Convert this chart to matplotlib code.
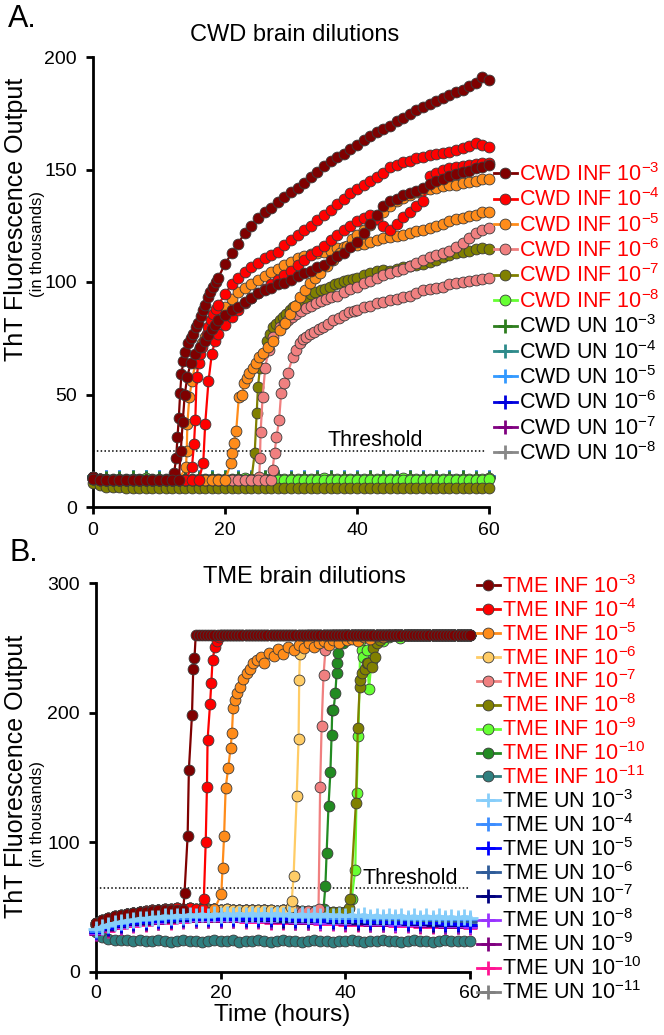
import matplotlib
matplotlib.use('Agg')
import matplotlib.pyplot as plt
from matplotlib.lines import Line2D

plt.rcParams['font.family'] = ['Liberation Sans', 'DejaVu Sans']
plt.rcParams['mathtext.fontset'] = 'custom'
plt.rcParams['mathtext.rm'] = 'Liberation Sans'
plt.rcParams['mathtext.it'] = 'Liberation Sans:italic'
plt.rcParams['mathtext.bf'] = 'Liberation Sans:bold'

# ------------------------------------------------------------------ data
hours = list(range(0, 61))
hours2 = list(range(0, 61, 2))

# ---- Panel A : CWD brain dilutions (ThT, thousands)
cwd_base_1 = [13.2, 12.4, 12.1, 11.9, 12.0, 12.2, 11.8, 12.0, 12.1, 11.9,
              12.0, 12.2, 12.1, 12.0, 11.9, 12.1, 12.0, 12.2, 11.9, 12.0,
              12.1, 11.9, 12.0, 12.2, 12.1, 11.9, 12.0, 12.2, 12.1]
cwd_base_2 = [12.6, 12.1, 11.8, 12.0, 12.1, 11.9, 12.2, 12.0, 11.8, 12.1,
              11.9, 12.0, 12.2, 11.9, 12.1, 12.0, 11.8, 12.1, 12.0, 12.2,
              11.9, 12.0, 12.1, 11.9, 12.2, 12.0, 11.9, 12.1, 12.0]

cwd_inf3a_rise_t = [12.3, 12.6, 12.8, 13.0, 13.2, 13.4, 13.7, 14.0, 14.4, 14.8,
                    15.2, 15.6, 15.9, 16.3, 16.7, 17.0, 17.4, 17.8, 18.2, 18.6]
cwd_inf3a_rise_v = [15, 22, 31, 39.5, 50.5, 59, 65, 69, 73, 75,
                    77, 80, 82, 85, 87.6, 90, 93.5, 95.5, 98, 100]
cwd_inf3a_post = [102, 108, 112.7, 117, 122, 125, 128.5, 131, 133, 135.7,
                  138, 140, 142, 144, 146.8, 149, 151.5, 154, 155.5, 157,
                  159, 161, 163, 165, 166.5, 168, 169.5, 171.5, 173, 174.5,
                  176.5, 178, 179, 180.5, 182, 183, 184.5, 185.5, 187, 188.5,
                  191, 190]

cwd_inf3b_rise_t = [13.3, 13.6, 13.9, 14.3, 14.8, 15.5, 16.2, 17.0, 17.5, 18.0, 18.5]
cwd_inf3b_rise_v = [25, 38, 50, 58, 64, 68, 71, 74, 76.5, 79, 81]
cwd_inf3b_post = [83, 85.5, 87.5, 89, 91, 93, 95, 96.5, 97.5, 99,
                  99.6, 101, 102.5, 104, 105, 106.5, 107.5, 110, 111.5, 113,
                  115.7, 118, 122, 126, 130, 134, 136, 137, 138.5, 139.5,
                  140.5, 142, 143.5, 145, 146, 147, 148, 149, 149.5, 150.5,
                  151, 152]

cwd_inf4a_rise_t = [15.0, 15.3, 15.5, 15.7, 16.0, 16.2, 16.5, 16.8, 17.2, 17.5, 17.9, 18.2, 18.6]
cwd_inf4a_rise_v = [18, 28, 38.7, 58, 64, 68, 71, 74, 77, 80, 83, 86, 88]
cwd_inf4a_post = [90, 94.5, 99, 102, 104.5, 106.5, 108.5, 110.5, 112, 113.5,
                  116.5, 118.5, 121, 123, 125, 127.5, 130, 132, 134.5, 137,
                  139.5, 141.5, 143, 145, 146.8, 148.5, 151, 152, 153.5, 154,
                  155, 155.7, 156.5, 157, 157.5, 158, 158.7, 159.5, 160.5, 162,
                  161, 160]

cwd_inf4b_rise_t = [16.7, 17.0, 17.5, 18.0, 18.5]
cwd_inf4b_rise_v = [19.4, 37, 56, 68, 74]
cwd_inf4b_post = [77, 81, 84.5, 87.5, 90.5, 93, 95, 97, 99, 101,
                  103, 105, 107.5, 110, 112, 114, 116, 118.5, 121, 123,
                  125, 127, 128.5, 130, 128, 125, 123, 126, 129, 131,
                  134, 136, 147, 148.5, 150, 150.5, 151, 151.5, 152, 152.5,
                  153, 153]

cwd_inf5a_rise_t = [14.1, 14.2, 14.3, 14.6, 15.0, 15.5, 16.0, 16.5, 17.0, 17.6, 18.2, 18.8]
cwd_inf5a_rise_v = [18, 25, 37, 49, 56, 64, 70, 73, 75.7, 79, 81.6, 84.5]
cwd_inf5a_post = [85.5, 89, 92.5, 95.5, 97.5, 99, 101, 102.5, 104.5, 106,
                  107.5, 109, 110.5, 111.5, 112.5, 113, 113.5, 114, 115, 115.5,
                  116, 116.5, 117, 118, 118.7, 119.5, 120, 120.5, 121, 122,
                  122.5, 123, 124, 125, 126, 127, 128, 128.5, 129.5, 130,
                  131, 131]

cwd_inf5b_rise_t = [20.9, 21.1, 21.3, 21.7, 22.1, 22.6, 22.9, 23.3, 23.7, 24.2,
                    24.7, 25.2, 25.8, 26.5, 27.3, 28.3, 29.1, 29.9, 30.6, 31.4,
                    32.1, 32.9, 33.6, 34.4, 35.4, 36.4, 37.4, 38.5, 39.3]
cwd_inf5b_rise_v = [19.4, 24, 28.4, 34, 49, 50, 55, 57.5, 59.5, 62,
                    64, 66.5, 68.4, 71, 74, 78.7, 82, 86, 89.5, 93.5,
                    96.5, 99.6, 102, 104, 107, 110, 113, 116, 119]
cwd_inf5b_post = [121, 123, 125.5, 128, 131, 134, 136, 137.5, 138.5, 140,
                  141, 141.5, 142, 142.5, 143, 143, 144, 144.5, 145, 146,
                  146]

cwd_inf6a_rise_t = [25.0, 25.2, 25.3, 25.4, 25.7, 26.1, 26.6, 27.3, 28.3, 29.0,
                    29.5, 30.2, 30.8, 31.5, 32.2, 33.0, 33.8, 34.5, 35.3, 36.1,
                    37.0, 38.0, 39.0]
cwd_inf6a_rise_v = [12.3, 13.5, 22, 33.5, 49, 62, 70, 75.7, 80, 81.5,
                    83, 84.5, 86, 87, 88.5, 89.5, 90.5, 91.5, 92.5, 93.5,
                    94, 95.5, 97]
cwd_inf6a_post = [98, 99.6, 100.5, 102, 103, 104, 105, 106, 107, 108.5,
                  110, 111, 112, 113, 114, 115.7, 117.5, 119.5, 121.6, 123,
                  124]

cwd_inf6b_rise_t = [27.2, 27.5, 27.8, 28.2, 28.5, 29.0, 29.5, 30.3, 30.8, 31.3,
                    31.8, 32.3, 32.9, 33.5, 34.2, 34.9, 35.6, 36.4, 37.2, 38.0,
                    38.8, 39.5]
cwd_inf6b_rise_v = [16.4, 24, 31, 38.7, 50.5, 55, 59.5, 66.8, 70, 73,
                    74.5, 75.7, 77, 78, 79, 80, 81.5, 83, 84, 85.5,
                    86.5, 87]
cwd_inf6b_post = [87.6, 89, 89.5, 90.5, 91, 92, 92.5, 93.5, 94, 95,
                  96.4, 97, 97.5, 98, 99, 99.6, 100, 100.5, 101, 101.5,
                  102]

cwd_inf7a_rise_t = [24.5, 24.8, 25.0, 25.3, 25.8, 26.3, 26.8, 27.3, 27.8, 28.3,
                    28.8, 29.3, 29.8, 30.3, 30.9, 31.5, 32.2, 33.0, 33.7, 34.5,
                    35.2, 35.9, 36.6, 37.3, 38.0, 38.7, 39.4]
cwd_inf7a_rise_v = [24, 41.6, 53.5, 62, 68, 74, 77, 80, 81.5, 83,
                    84.5, 86, 87.5, 89, 90, 91.5, 93, 94.5, 95.5, 96.5,
                    97, 98, 99, 99.5, 100.5, 101, 101.5]
cwd_inf7a_post = [102, 103, 104, 105, 105.5, 105, 106, 106.5, 107, 107.5,
                  108, 109, 110, 111, 112, 113, 113.5, 114, 114.5, 115,
                  114.7]

cwd_inf7b = [10.6, 9.6, 9.0, 8.8, 8.7, 8.6, 8.5, 8.6, 8.5, 8.4,
             8.5, 8.6, 8.5, 8.4, 8.5, 8.5, 8.6, 8.4, 8.5, 8.5,
             8.6, 8.5, 8.4, 8.5, 8.6, 8.5, 8.5, 8.4, 8.5, 8.6,
             8.5, 8.4, 8.5, 8.5, 8.6, 8.5, 8.4, 8.5, 8.6, 8.5,
             8.5, 8.4, 8.5, 8.6, 8.5, 8.5, 8.4, 8.5, 8.6, 8.5,
             8.4, 8.5, 8.5, 8.6, 8.5, 8.4, 8.5, 8.6, 8.5, 8.5,
             8.6]
cwd_inf8a = [13.0, 12.6, 12.4, 12.5, 12.3, 12.6, 12.4, 12.5, 12.7, 12.4,
             12.5, 12.6, 12.3, 12.5, 12.4, 12.6, 12.5, 12.3, 12.6, 12.5,
             12.4, 12.6, 12.5, 12.7, 12.4, 12.5, 12.6, 12.4, 12.5, 12.3,
             12.6, 12.5, 12.4, 12.6, 12.5, 12.7, 12.4, 12.5, 12.6, 12.4,
             12.5, 12.3, 12.6, 12.5, 12.4, 12.6, 12.5, 12.7, 12.4, 12.5,
             12.6, 12.4, 12.5, 12.6, 12.3, 12.5, 12.6, 12.4, 12.5, 12.6,
             12.8]
cwd_inf8b = [12.4, 12.1, 11.9, 12.0, 12.2, 11.9, 12.1, 12.0, 11.8, 12.1,
             12.0, 11.9, 12.2, 12.0, 12.1, 11.9, 12.0, 12.2, 11.9, 12.1,
             12.0, 11.8, 12.1, 12.0, 12.2, 11.9, 12.0, 12.1, 11.9, 12.2,
             12.0, 12.1, 11.9, 12.0, 12.2, 12.0, 11.9, 12.1, 12.0, 11.8,
             12.1, 12.0, 12.2, 11.9, 12.0, 12.1, 11.9, 12.2, 12.0, 12.1,
             11.9, 12.0, 12.2, 12.0, 11.9, 12.1, 12.0, 12.2, 11.9, 12.0,
             12.3]

cwd_un3 = [13.8, 13.5, 13.4, 13.6, 13.5, 13.4, 13.6, 13.5, 13.3, 13.5, 13.6, 13.4, 13.5, 13.6, 13.4, 13.5,
           13.3, 13.5, 13.6, 13.4, 13.5, 13.6, 13.5, 13.4, 13.6, 13.5, 13.3, 13.5, 13.6, 13.4, 13.5]
cwd_un4 = [13.6, 13.4, 13.5, 13.3, 13.6, 13.5, 13.4, 13.3, 13.5, 13.6, 13.4, 13.5, 13.3, 13.4, 13.6, 13.5,
           13.4, 13.6, 13.3, 13.5, 13.4, 13.5, 13.6, 13.3, 13.5, 13.4, 13.6, 13.4, 13.5, 13.3, 13.4]
cwd_un5 = [14.0, 13.7, 13.6, 13.8, 13.6, 13.7, 13.5, 13.8, 13.6, 13.7, 13.8, 13.6, 13.7, 13.5, 13.8, 13.7,
           13.6, 13.8, 13.7, 13.6, 13.8, 13.7, 13.5, 13.7, 13.8, 13.6, 13.7, 13.8, 13.6, 13.7, 13.6]
cwd_un6 = [13.9, 13.8, 13.7, 13.9, 13.8, 13.6, 13.9, 13.7, 13.8, 13.9, 13.7, 13.8, 13.6, 13.9, 13.8, 13.7,
           13.9, 13.8, 13.6, 13.8, 13.9, 13.7, 13.8, 13.9, 13.7, 13.8, 13.6, 13.9, 13.8, 13.7, 13.8]
cwd_un7 = [13.4, 13.2, 13.3, 13.1, 13.3, 13.2, 13.4, 13.3, 13.1, 13.2, 13.3, 13.4, 13.2, 13.3, 13.1, 13.3,
           13.2, 13.4, 13.3, 13.2, 13.1, 13.3, 13.2, 13.4, 13.3, 13.2, 13.3, 13.1, 13.2, 13.3, 13.2]
cwd_un8 = [13.3, 13.1, 13.2, 13.0, 13.2, 13.1, 13.3, 13.2, 13.0, 13.1, 13.2, 13.3, 13.1, 13.2, 13.0, 13.2,
           13.1, 13.3, 13.2, 13.1, 13.0, 13.2, 13.1, 13.3, 13.2, 13.1, 13.2, 13.0, 13.1, 13.2, 13.1]

cwd_inf_labels = ['-3', '-4', '-5', '-6', '-7', '-8']
cwd_inf_colors = ['#7f0000', '#ff0000', '#ff8c1a', '#f08080', '#808000', '#66ff33']
cwd_un_colors = ['#2e7d1e', '#2e8b8b', '#3399ff', '#0000dd', '#800080', '#888888']
cwd_threshold = 25

# ---- Panel B : TME brain dilutions
tme_base_1 = [37.5, 40.0, 41.5, 43.0, 44.0, 45.0, 45.5, 46.0, 46.5, 47.0,
              47.5, 47.5, 48.0, 48.0, 48.0, 48.5, 48.0, 48.5, 48.0, 48.5,
              48.0, 48.0, 47.5, 48.0, 47.5, 47.5, 47.0, 47.5, 47.0, 47.0,
              47.5, 47.0, 47.0, 46.5, 47.0, 46.5, 46.5, 46.0, 46.5, 46.0,
              46.5]
tme_base_2 = [36.5, 39.0, 41.0, 42.5, 43.5, 44.5, 45.5, 46.5, 47.0, 47.5,
              48.0, 48.5, 48.5, 49.0, 48.5, 49.0, 48.5, 49.0, 48.5, 48.5,
              48.0, 48.5, 48.0, 48.0, 48.0, 47.5, 48.0, 47.5, 47.5, 47.0,
              47.5, 47.0, 47.5, 47.0, 46.5, 47.0, 46.5, 46.5, 46.0, 46.5,
              46.0]
# instrument ceiling, read every half hour from 17 h to 60 h
tme_ceiling_t = [h / 2 for h in range(34, 121)]
tme_ceiling = [260, 260, 260, 260, 260, 260, 260, 260, 260, 260,
               260, 260, 260, 260, 260, 260, 260, 260, 260, 260,
               260, 260, 260, 260, 260, 260, 260, 260, 260, 260,
               260, 260, 260, 260, 260, 260, 260, 260, 260, 260,
               260, 260, 260, 260, 260, 260, 260, 260, 260, 260,
               260, 260, 260, 260, 260, 260, 260, 260, 260, 260,
               260, 260, 260, 260, 260, 260, 260, 260, 260, 260,
               260, 260, 260, 260, 260, 260, 260, 260, 260, 260,
               260, 260, 260, 260, 260, 260, 260]

tme_inf3_rise_t = [14.2, 14.7, 14.9, 15.4, 15.6, 15.8, 16.0, 16.5]
tme_inf3_rise_v = [61, 105, 156, 198.5, 234, 242, 260, 260]
tme_inf4_rise_t = [17.1, 17.3, 17.6, 17.8, 17.9, 18.3, 18.5, 18.7, 19.1, 19.4, 19.8]
tme_inf4_rise_v = [48.5, 56, 100, 143, 179, 207, 223, 241, 251, 255, 258]
tme_inf5_rise_t = [20.1, 20.3, 20.55, 20.8, 21.2, 21.6, 21.8, 22.0, 22.3, 22.7,
                   23.1, 23.6, 24.2, 24.7, 25.2, 25.8, 26.4, 27.0, 27.7, 28.5,
                   29.2, 30.0, 30.8, 31.7, 32.5, 33.3, 34.1, 34.9, 35.7, 36.5,
                   37.3, 38.1, 39.0, 40.2, 41.0, 42.0, 43.0, 44.0, 45.0, 46.0,
                   47.0, 48.0]
tme_inf5_rise_v = [60, 80, 105, 142, 157, 173, 184, 203.6, 210, 215,
                   220, 226, 230.5, 234, 238, 240.8, 243, 238, 246, 244,
                   249, 245, 251, 248, 252, 250, 254, 251, 253.6, 255,
                   252, 256, 254, 256, 257, 255, 258, 257, 259, 258,
                   260, 260]
tme_inf6_rise_t = [31.3, 31.4, 31.7, 32.2, 32.5, 32.6, 32.7, 33.2]
tme_inf6_rise_v = [50, 55, 74, 136, 180, 225, 245, 258]
tme_inf7_rise_t = [35.7, 35.96, 36.2, 36.5, 36.8, 37.3]
tme_inf7_rise_v = [48.5, 143, 190, 229, 248, 258]
tme_inf8_rise_t = [40.66, 40.8, 41.7, 42.0, 42.3, 42.4, 42.6, 43.2, 43.4, 43.7,
                   44.2, 44.5, 44.8, 45.05, 45.6, 46.1, 47.0]
tme_inf8_rise_v = [49.7, 56, 130.5, 188, 220, 225, 230.5, 234, 238, 238,
                   235.6, 249.8, 243, 253.6, 256, 258.7, 259]
tme_inf9_rise_t = [40.5, 41.0, 41.6, 41.8, 42.1, 42.4, 42.6, 42.9, 43.4, 43.8,
                   44.2, 45.05, 46.0, 47.0, 48.8]
tme_inf9_rise_v = [48, 56, 79, 138, 182, 255, 248, 243, 248, 218,
                   240, 256, 255, 258, 257.5]
tme_inf10_rise_t = [36.5, 36.8, 37.0, 37.3, 37.6, 37.8, 37.9, 38.1, 38.4, 38.6,
                    38.7, 38.9, 39.2, 39.6]
tme_inf10_rise_v = [48.5, 66.4, 92, 128, 154, 183, 202, 202, 215, 230.5,
                    238, 246, 256, 254]
tme_inf11 = [31.0, 27.0, 25.5, 25.0, 24.5, 24.5, 24.0, 24.5, 24.0, 24.0,
             24.5, 24.0, 23.5, 24.0, 24.5, 24.0, 24.0, 23.5, 24.0, 24.5,
             24.0, 24.0, 24.5, 23.5, 24.0, 24.0, 24.5, 24.0, 23.5, 24.0,
             24.5, 24.0, 24.0, 23.5, 24.0, 24.5, 24.0, 24.0, 23.5, 24.0,
             24.0, 24.5, 24.0, 23.5, 24.0, 24.0, 24.5, 24.0, 24.0, 23.5,
             24.0, 24.5, 24.0, 24.0, 23.5, 24.0, 24.5, 24.0, 24.0, 24.0,
             24.0]

# UN 10^-3 read hourly (top, visible band); the rest every 2 h
tme_un3 = [33.0, 35.0, 36.5, 37.5, 38.5, 39.5, 40.0, 41.0, 41.0, 42.0,
           42.0, 43.0, 42.5, 43.5, 43.0, 44.0, 43.5, 44.5, 43.5, 44.5,
           44.0, 45.0, 44.0, 45.0, 44.0, 45.0, 44.0, 45.0, 44.0, 45.0,
           44.0, 44.5, 43.5, 44.5, 43.5, 44.5, 43.5, 44.5, 43.0, 44.0,
           43.0, 44.0, 43.0, 44.0, 42.5, 43.5, 42.5, 43.5, 42.5, 43.5,
           42.0, 43.0, 42.0, 43.0, 42.0, 43.0, 41.5, 42.5, 41.5, 42.5,
           42.0]
tme_un4 = [32.0, 35.5, 37.5, 39.0, 40.0, 41.0, 41.5, 42.0, 42.5, 42.5, 43.0, 43.0, 43.0, 43.0, 43.0, 43.0,
           42.5, 42.5, 42.5, 42.0, 42.0, 42.0, 41.5, 41.5, 41.5, 41.0, 41.0, 41.0, 40.5, 40.5, 40.5]
tme_un5 = [31.0, 34.0, 36.0, 37.5, 38.5, 39.5, 40.0, 40.5, 41.0, 41.0, 41.0, 41.0, 41.0, 40.5, 40.5, 40.5,
           40.0, 40.0, 39.5, 39.5, 39.0, 39.0, 38.5, 38.5, 38.0, 38.0, 37.5, 37.5, 37.0, 37.0, 36.5]
tme_un6 = [31.5, 35.0, 37.0, 38.5, 39.5, 40.5, 41.0, 41.5, 42.0, 42.0, 42.0, 42.0, 42.0, 41.5, 41.5, 41.5,
           41.0, 41.0, 41.0, 40.5, 40.5, 40.0, 40.0, 40.0, 39.5, 39.5, 39.0, 39.0, 39.0, 38.5, 38.5]
tme_un7 = [30.5, 33.5, 35.5, 37.0, 38.0, 39.0, 39.5, 40.0, 40.5, 40.5, 40.5, 40.5, 40.0, 40.0, 40.0, 39.5,
           39.5, 39.0, 39.0, 38.5, 38.5, 38.0, 38.0, 37.5, 37.5, 37.0, 37.0, 36.5, 36.5, 36.0, 36.0]
tme_un8 = [30.0, 33.0, 35.0, 36.5, 37.5, 38.5, 39.0, 39.5, 40.0, 40.0, 40.0, 40.0, 39.5, 39.5, 39.0, 39.0,
           38.5, 38.5, 38.0, 38.0, 37.5, 37.5, 37.0, 37.0, 36.5, 36.5, 36.0, 36.0, 35.5, 35.5, 35.0]
tme_un9 = [29.5, 32.5, 34.5, 36.0, 37.0, 38.0, 38.5, 39.0, 39.5, 39.5, 39.5, 39.5, 39.0, 39.0, 38.5, 38.5,
           38.0, 38.0, 37.5, 37.5, 37.0, 37.0, 36.5, 36.5, 36.0, 36.0, 35.5, 35.5, 35.0, 35.0, 34.5]
tme_un10 = [29.0, 32.0, 34.0, 35.5, 36.5, 37.5, 38.0, 38.5, 39.0, 39.0, 39.0, 39.0, 38.5, 38.5, 38.0, 38.0,
            37.5, 37.5, 37.0, 37.0, 36.5, 36.5, 36.0, 36.0, 35.5, 35.5, 35.0, 35.0, 34.5, 34.5, 34.0]
tme_un11 = [32.0, 35.0, 37.0, 38.5, 39.5, 40.5, 41.0, 41.5, 42.0, 42.0, 42.0, 42.0, 42.0, 42.0, 41.5, 41.5,
            41.5, 41.0, 41.0, 41.0, 40.5, 40.5, 40.5, 40.0, 40.0, 40.0, 39.5, 39.5, 39.5, 39.0, 39.0]

tme_labels = ['-3', '-4', '-5', '-6', '-7', '-8', '-9', '-10', '-11']
tme_inf_colors = ['#7f0000', '#ff0000', '#ff8c1a', '#ffcc66', '#f08080',
                  '#808000', '#66ff33', '#228b22', '#2f7f7f']
tme_un_colors = ['#87cefa', '#3c8dff', '#0000ff', '#2f5c99', '#00007f',
                 '#9933ff', '#800080', '#ff1493', '#808080']
tme_threshold = 65

# ------------------------------------------------------------------ helpers
W, H = 664, 1035
fig = plt.figure(figsize=(W / 100, H / 100), dpi=100)


def fx(px):
    return px / W


def fy(py):
    return 1 - py / H


def build(base, n_base, rise_t, rise_v, post_start, post_v):
    t = hours[:n_base] + rise_t + hours[post_start:]
    v = base[:n_base] + rise_v + post_v
    return t, v


def build_b(base, n_base, rise_t, rise_v, ceil_start):
    idx = (ceil_start - 17) * 2
    return (hours[:n_base] + rise_t + tme_ceiling_t[idx:],
            base[:n_base] + rise_v + tme_ceiling[idx:])


MS = 7.8
EDGE = '#3a3a3a'


def plot_inf(ax, t, v, color, z):
    ax.plot(t, v, '-', color=color, lw=1.6, marker='o', ms=MS, mfc=color,
            mec=EDGE, mew=0.6, clip_on=False, zorder=z)


def plot_un(ax, t, v, color, z, ms=9, lw=1.6):
    ax.plot(t, v, '-', color=color, lw=lw, marker='+', ms=ms, mew=2,
            clip_on=False, zorder=z)


# ------------------------------------------------------------------ axes
axA = fig.add_axes([fx(93), fy(507), (489 - 93) / W, (507 - 57) / H])
axB = fig.add_axes([fx(96), fy(972), (470 - 96) / W, (972 - 583) / H])
for ax in (axA, axB):
    ax.spines['top'].set_visible(False)
    ax.spines['right'].set_visible(False)
    ax.spines['left'].set_linewidth(2)
    ax.spines['bottom'].set_linewidth(2)
    ax.tick_params(width=2, length=5, labelsize=14, direction='out')
    ax.tick_params(axis='y', pad=6.5)
    ax.set_xlim(0, 60)
    ax.set_xticks([0, 20, 40, 60])
    ax.patch.set_alpha(0)
axA.tick_params(axis='x', pad=6)
axB.tick_params(axis='x', pad=4)
axA.set_ylim(0, 200)
axA.set_yticks([0, 50, 100, 150, 200])
axB.set_ylim(0, 300)
axB.set_yticks([0, 100, 200, 300])

# ---- panel A drawing
un_a = [cwd_un3, cwd_un4, cwd_un5, cwd_un6, cwd_un7, cwd_un8]
for i in reversed(range(6)):
    plot_un(axA, hours2, un_a[i], cwd_un_colors[i], 2 + (5 - i) * 0.01)

cwd_series = {
    0: [build(cwd_base_1, 13, cwd_inf3a_rise_t, cwd_inf3a_rise_v, 19, cwd_inf3a_post),
        build(cwd_base_2, 14, cwd_inf3b_rise_t, cwd_inf3b_rise_v, 19, cwd_inf3b_post)],
    1: [build(cwd_base_1, 15, cwd_inf4a_rise_t, cwd_inf4a_rise_v, 19, cwd_inf4a_post),
        build(cwd_base_2, 17, cwd_inf4b_rise_t, cwd_inf4b_rise_v, 19, cwd_inf4b_post)],
    2: [build(cwd_base_1, 14, cwd_inf5a_rise_t, cwd_inf5a_rise_v, 19, cwd_inf5a_post),
        build(cwd_base_2, 21, cwd_inf5b_rise_t, cwd_inf5b_rise_v, 40, cwd_inf5b_post)],
    3: [build(cwd_base_1, 25, cwd_inf6a_rise_t, cwd_inf6a_rise_v, 40, cwd_inf6a_post),
        build(cwd_base_2, 28, cwd_inf6b_rise_t, cwd_inf6b_rise_v, 40, cwd_inf6b_post)],
    4: [build(cwd_base_1, 25, cwd_inf7a_rise_t, cwd_inf7a_rise_v, 40, cwd_inf7a_post),
        (hours, cwd_inf7b)],
    5: [(hours, cwd_inf8a), (hours, cwd_inf8b)],
}
for i in reversed(range(6)):
    for k, (t, v) in enumerate(cwd_series[i]):
        plot_inf(axA, t, v, cwd_inf_colors[i], 3 + (5 - i) * 0.1 + k * 0.01)

axA.plot([0, 59.5], [cwd_threshold, cwd_threshold], ls=(0, (1, 1.5)), color='black', lw=1.1, zorder=1)
axA.text(35.5, 27.3, 'Threshold', fontsize=15.5, va='baseline', ha='left')

# ---- panel B drawing
tme_series = [
    build_b(tme_base_1, 15, tme_inf3_rise_t, tme_inf3_rise_v, 17),
    build_b(tme_base_2, 17, tme_inf4_rise_t, tme_inf4_rise_v, 20),
    build_b(tme_base_1, 20, tme_inf5_rise_t, tme_inf5_rise_v, 49),
    build_b(tme_base_2, 32, tme_inf6_rise_t, tme_inf6_rise_v, 34),
    build_b(tme_base_1, 36, tme_inf7_rise_t, tme_inf7_rise_v, 38),
    build_b(tme_base_2, 41, tme_inf8_rise_t, tme_inf8_rise_v, 48),
    build_b(tme_base_1, 41, tme_inf9_rise_t, tme_inf9_rise_v, 50),
    build_b(tme_base_2, 37, tme_inf10_rise_t, tme_inf10_rise_v, 40),
    (hours, tme_inf11),
]
for i in reversed(range(9)):
    t, v = tme_series[i]
    plot_inf(axB, t, v, tme_inf_colors[i], 3 + (8 - i) * 0.1)

un_b = [tme_un3, tme_un4, tme_un5, tme_un6, tme_un7, tme_un8, tme_un9, tme_un10, tme_un11]
for i in reversed(range(1, 9)):
    plot_un(axB, hours2, un_b[i], tme_un_colors[i], 5 + (8 - i) * 0.01, ms=10, lw=2)
plot_un(axB, hours, tme_un3, tme_un_colors[0], 5.2, ms=11, lw=3)

axB.plot([0, 60], [tme_threshold, tme_threshold], ls=(0, (1, 1.5)), color='black', lw=1.1, zorder=1)
axB.text(42.7, 67.5, 'Threshold', fontsize=15.5, va='baseline', ha='left')


# ------------------------------------------------------------------ legends
def inf_handle(c):
    return Line2D([], [], color=c, lw=2, marker='o', ms=MS, mfc=c, mec=EDGE, mew=0.6)


def un_handle(c):
    return Line2D([], [], color=c, lw=2, marker='+', ms=10, mew=2)


hA = [inf_handle(c) for c in cwd_inf_colors] + [un_handle(c) for c in cwd_un_colors]
lA = ['CWD INF 10$^{\\mathregular{%s}}$' % s for s in cwd_inf_labels] + \
     ['CWD UN 10$^{\\mathregular{%s}}$' % s for s in cwd_inf_labels]
cA = ['#ff0000'] * 6 + ['black'] * 6
axA.legend(hA, lA, loc='upper left', bbox_to_anchor=(fx(494), fy(163)),
           bbox_transform=fig.transFigure, frameon=False, fontsize=15.5,
           handlelength=1.05, handletextpad=0.1, labelspacing=0.115,
           borderpad=0, borderaxespad=0, labelcolor=cA)

hB = [inf_handle(c) for c in tme_inf_colors] + [un_handle(c) for c in tme_un_colors]
lB = ['TME INF 10$^{\\mathregular{%s}}$' % s for s in tme_labels] + \
     ['TME UN 10$^{\\mathregular{%s}}$' % s for s in tme_labels]
cB = ['#ff0000'] * 9 + ['black'] * 9
axB.legend(hB, lB, loc='upper left', bbox_to_anchor=(fx(477), fy(575)),
           bbox_transform=fig.transFigure, frameon=False, fontsize=15.5,
           handlelength=1.05, handletextpad=0.1, labelspacing=0.046,
           borderpad=0, borderaxespad=0, labelcolor=cB)

# ------------------------------------------------------------------ texts
fig.text(fx(8), fy(19), 'A.', fontsize=22, va='center', ha='left')
fig.text(fx(10), fy(553), 'B.', fontsize=22, va='center', ha='left')
fig.text(fx(295), fy(35), 'CWD brain dilutions', fontsize=17, va='center', ha='center')
fig.text(fx(304), fy(577), 'TME brain dilutions', fontsize=17, va='center', ha='center')
fig.text(fx(16.5), fy(219), 'ThT Fluorescence Output', fontsize=18, rotation=90, va='center', ha='center')
fig.text(fx(37.5), fy(244), '(in thousands)', fontsize=12, rotation=90, va='center', ha='center')
fig.text(fx(16.5), fy(776), 'ThT Fluorescence Output', fontsize=18, rotation=90, va='center', ha='center')
fig.text(fx(37.5), fy(814), '(in thousands)', fontsize=12, rotation=90, va='center', ha='center')
fig.text(fx(282), fy(1015), 'Time (hours)', fontsize=17.5, va='center', ha='center')

fig.savefig('out.png', dpi=100)
